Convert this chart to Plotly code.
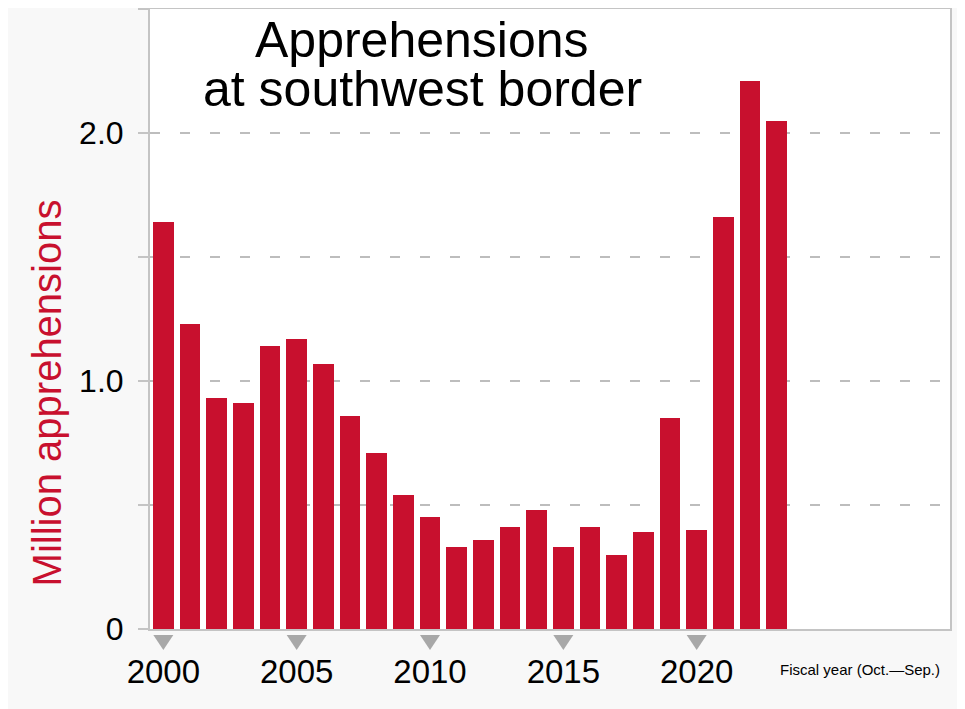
import plotly.graph_objects as go

# Southwest border apprehensions, millions, fiscal years 2000-2023
years = list(range(2000, 2024))
apprehensions = [1.64, 1.23, 0.93, 0.91, 1.14, 1.17, 1.07, 0.86, 0.71, 0.54,
                 0.45, 0.33, 0.36, 0.41, 0.48, 0.33, 0.41, 0.30, 0.39, 0.85,
                 0.40, 1.66, 2.21, 2.05]

tick_years = [2000, 2005, 2010, 2015, 2020]
y_ticks = [0, 0.5, 1.0, 1.5, 2.0, 2.5]
y_labels = ['0', '', '1.0', '', '2.0', '']

red = '#c8102e'
grey = '#a8a8a8'
font = 'Liberation Sans, Arial, sans-serif'

fig = go.Figure()

fig.add_trace(go.Bar(
    x=years, y=apprehensions,
    width=0.78,
    marker=dict(color=red, line=dict(width=0)),
    hoverinfo='x+y'
))

annotations = [
    dict(text='Apprehensions', xref='paper', yref='paper',
         x=0.34, y=1.0, yshift=-1, xanchor='center', yanchor='top',
         showarrow=False, font=dict(size=50, family=font)),
    dict(text='at southwest border', xref='paper', yref='paper',
         x=0.34, y=1.0, yshift=-50, xanchor='center', yanchor='top',
         showarrow=False, font=dict(size=50, family=font)),
    dict(text='Million apprehensions', xref='paper', yref='paper',
         x=0, xshift=-103, y=0.38, xanchor='center', yanchor='middle',
         textangle=-90, showarrow=False,
         font=dict(size=40, family=font, color=red)),
    dict(text='Fiscal year (Oct.\u2014Sep.)', xref='paper', yref='paper',
         x=0.99, y=0, yshift=-40, xanchor='right', yanchor='middle',
         showarrow=False, font=dict(size=15, family=font)),
]

# little grey pointers under the labelled years (pixel-sized, anchored on the year)
shapes = [dict(type='path', xref='x', yref='paper',
               xsizemode='pixel', ysizemode='pixel', xanchor=yr, yanchor=0,
               path='M -10,-6 L 10,-6 L 0,-21 Z',
               fillcolor=grey, line=dict(width=0), layer='above')
          for yr in tick_years]

# page body has an 8px margin, so the figure is a little smaller than the window
fig.update_layout(
    width=957, height=701,
    margin=dict(l=142, r=15, t=1, b=80, autoexpand=False),
    paper_bgcolor='#f8f8f8',
    plot_bgcolor='white',
    showlegend=False,
    font=dict(family=font, color='black'),
    bargap=0,
    xaxis=dict(
        range=[1999.5, 2029.5],
        tickvals=tick_years,
        ticktext=[str(y) for y in tick_years],
        ticks='',
        ticklabelstandoff=12,
        tickfont=dict(size=33),
        showgrid=False,
        zeroline=False,
        automargin=False,
        showline=True, linecolor='#c4c4c4', linewidth=2, mirror=True,
    ),
    yaxis=dict(
        range=[0, 2.5],
        tickvals=y_ticks,
        ticktext=y_labels,
        ticks='outside', ticklen=10, tickcolor='#c4c4c4', tickwidth=2,
        ticklabelstandoff=8,
        tickfont=dict(size=32),
        showgrid=True, gridcolor='#bdbdbd', gridwidth=2, griddash='10px,20px',
        zeroline=False,
        automargin=False,
        showline=True, linecolor='#c4c4c4', linewidth=2, mirror=True,
    ),
    annotations=annotations,
    shapes=shapes,
)

fig.write_html('out.html')
